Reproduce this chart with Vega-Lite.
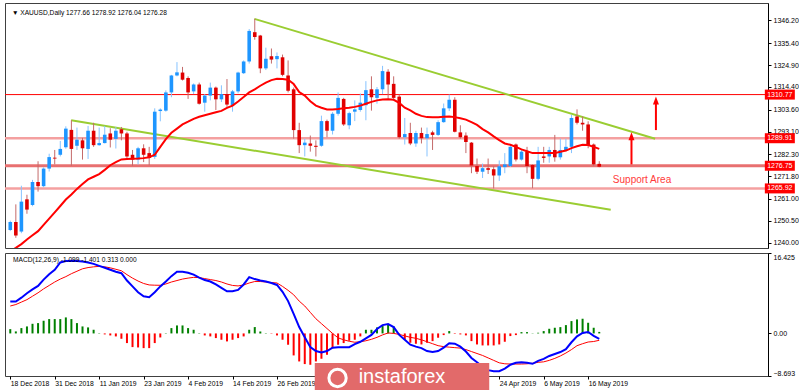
{
"$schema":"https://vega.github.io/schema/vega-lite/v6.json",
"background":"white",
"padding":{"left":3,"top":2,"right":0,"bottom":0},
"spacing":3,
"config":{"view":{"stroke":"#404040","strokeWidth":1},"font":"Liberation Sans","axis":{"labelFont":"Liberation Sans","labelColor":"#000","tickColor":"#000","domainColor":"#000","grid":false}},
"datasets":{
"bars":[
{"i":0,"o":1246.1,"h":1250.5,"l":1245.5,"c":1249.9,"ma":1235.8,"m":6.5,"s":5.6,"hi":0.88},
{"i":1,"o":1249.9,"h":1258.3,"l":1242.3,"c":1243.4,"ma":1237.5,"m":6.5,"s":5.9,"hi":0.41},
{"i":2,"o":1245.3,"h":1267.2,"l":1244.5,"c":1259.6,"ma":1239.3,"m":7.3,"s":6.4,"hi":1.09},
{"i":3,"o":1260.7,"h":1262.9,"l":1253.8,"c":1255.8,"ma":1241.5,"m":8.2,"s":6.9,"hi":1.43},
{"i":4,"o":1258.0,"h":1270.0,"l":1257.4,"c":1269.0,"ma":1243.5,"m":9.0,"s":7.6,"hi":1.97},
{"i":5,"o":1269.0,"h":1278.9,"l":1264.4,"c":1267.0,"ma":1245.5,"m":9.7,"s":8.3,"hi":2.11},
{"i":6,"o":1267.0,"h":1276.0,"l":1266.5,"c":1275.4,"ma":1248.5,"m":11.0,"s":9.1,"hi":2.59},
{"i":7,"o":1275.4,"h":1282.5,"l":1274.0,"c":1280.9,"ma":1251.5,"m":12.1,"s":9.8,"hi":2.93},
{"i":8,"o":1280.6,"h":1284.3,"l":1277.4,"c":1280.2,"ma":1254.5,"m":13.0,"s":10.5,"hi":2.93},
{"i":9,"o":1282.0,"h":1288.6,"l":1281.2,"c":1284.8,"ma":1257.5,"m":14.5,"s":11.1,"hi":2.93},
{"i":10,"o":1285.6,"h":1295.6,"l":1284.9,"c":1294.5,"ma":1260.6,"m":14.8,"s":11.6,"hi":3.27},
{"i":11,"o":1293.9,"h":1298.5,"l":1276.7,"c":1284.8,"ma":1263.0,"m":14.85,"s":12.2,"hi":2.93},
{"i":12,"o":1286.3,"h":1295.0,"l":1284.3,"c":1289.2,"ma":1265.7,"m":14.8,"s":12.7,"hi":2.11},
{"i":13,"o":1288.9,"h":1290.1,"l":1279.7,"c":1285.1,"ma":1268.0,"m":14.7,"s":13.2,"hi":1.43},
{"i":14,"o":1284.8,"h":1295.8,"l":1280.0,"c":1293.5,"ma":1270.2,"m":14.5,"s":13.45,"hi":1.23},
{"i":15,"o":1293.5,"h":1297.3,"l":1285.8,"c":1286.6,"ma":1271.5,"m":14.2,"s":13.6,"hi":0.75},
{"i":16,"o":1286.6,"h":1295.0,"l":1286.3,"c":1287.6,"ma":1272.8,"m":13.8,"s":13.7,"hi":0.07},
{"i":17,"o":1287.6,"h":1295.8,"l":1287.4,"c":1291.6,"ma":1274.8,"m":13.4,"s":13.6,"hi":-0.2},
{"i":18,"o":1292.2,"h":1294.7,"l":1285.5,"c":1289.2,"ma":1277.0,"m":13.0,"s":13.4,"hi":-0.41},
{"i":19,"o":1289.6,"h":1295.3,"l":1285.0,"c":1293.5,"ma":1278.5,"m":12.6,"s":13.1,"hi":-0.61},
{"i":20,"o":1294.2,"h":1295.3,"l":1288.9,"c":1292.2,"ma":1279.8,"m":12.3,"s":12.8,"hi":-1.09},
{"i":21,"o":1292.2,"h":1293.0,"l":1280.0,"c":1281.2,"ma":1280.0,"m":10.8,"s":12.0,"hi":-1.97},
{"i":22,"o":1282.0,"h":1284.3,"l":1276.7,"c":1279.7,"ma":1280.1,"m":9.6,"s":11.3,"hi":-2.79},
{"i":23,"o":1279.7,"h":1285.8,"l":1277.4,"c":1285.1,"ma":1280.2,"m":8.4,"s":10.7,"hi":-2.86},
{"i":24,"o":1285.1,"h":1287.0,"l":1278.5,"c":1282.0,"ma":1280.4,"m":7.6,"s":10.2,"hi":-3.0},
{"i":25,"o":1282.8,"h":1285.8,"l":1277.0,"c":1280.5,"ma":1280.8,"m":7.4,"s":9.9,"hi":-3.0},
{"i":26,"o":1281.0,"h":1304.2,"l":1280.0,"c":1302.6,"ma":1282.0,"m":8.4,"s":9.85,"hi":-1.97},
{"i":27,"o":1302.9,"h":1304.2,"l":1298.0,"c":1303.6,"ma":1285.8,"m":9.6,"s":9.83,"hi":-0.82},
{"i":28,"o":1303.1,"h":1312.8,"l":1302.6,"c":1311.8,"ma":1289.5,"m":10.6,"s":10.1,"hi":0.07},
{"i":29,"o":1311.8,"h":1320.2,"l":1309.5,"c":1319.9,"ma":1292.5,"m":11.7,"s":10.5,"hi":1.09},
{"i":30,"o":1319.9,"h":1326.3,"l":1319.5,"c":1321.4,"ma":1294.5,"m":12.6,"s":10.8,"hi":1.63},
{"i":31,"o":1321.3,"h":1324.0,"l":1317.5,"c":1317.9,"ma":1296.5,"m":12.6,"s":11.1,"hi":1.63},
{"i":32,"o":1318.7,"h":1319.5,"l":1308.7,"c":1311.8,"ma":1297.8,"m":12.4,"s":11.3,"hi":1.09},
{"i":33,"o":1312.3,"h":1316.1,"l":1311.0,"c":1315.6,"ma":1299.2,"m":12.0,"s":11.45,"hi":0.75},
{"i":34,"o":1315.6,"h":1316.5,"l":1306.0,"c":1306.4,"ma":1300.2,"m":11.4,"s":11.4,"hi":0.07},
{"i":35,"o":1306.9,"h":1311.0,"l":1302.6,"c":1310.3,"ma":1300.9,"m":10.9,"s":11.2,"hi":-0.41},
{"i":36,"o":1310.3,"h":1316.5,"l":1308.0,"c":1314.1,"ma":1301.6,"m":10.6,"s":11.0,"hi":-0.61},
{"i":37,"o":1314.1,"h":1314.6,"l":1303.4,"c":1308.5,"ma":1302.3,"m":10.0,"s":10.8,"hi":-0.95},
{"i":38,"o":1308.5,"h":1315.2,"l":1307.2,"c":1311.0,"ma":1303.0,"m":9.3,"s":10.5,"hi":-1.29},
{"i":39,"o":1311.0,"h":1318.2,"l":1304.9,"c":1306.0,"ma":1304.4,"m":8.6,"s":10.1,"hi":-1.63},
{"i":40,"o":1305.7,"h":1313.0,"l":1302.6,"c":1312.3,"ma":1305.5,"m":8.6,"s":9.8,"hi":-1.29},
{"i":41,"o":1312.3,"h":1321.7,"l":1311.4,"c":1321.3,"ma":1307.5,"m":8.9,"s":9.7,"hi":-0.95},
{"i":42,"o":1321.0,"h":1327.1,"l":1320.6,"c":1326.6,"ma":1309.6,"m":10.0,"s":9.9,"hi":-0.61},
{"i":43,"o":1326.6,"h":1342.1,"l":1325.6,"c":1341.2,"ma":1311.8,"m":11.5,"s":10.3,"hi":0.75},
{"i":44,"o":1340.6,"h":1347.0,"l":1337.0,"c":1338.3,"ma":1313.3,"m":11.1,"s":10.6,"hi":1.29},
{"i":45,"o":1339.0,"h":1339.3,"l":1321.0,"c":1323.3,"ma":1315.0,"m":10.8,"s":10.6,"hi":0.41},
{"i":46,"o":1323.3,"h":1333.2,"l":1322.5,"c":1327.9,"ma":1316.5,"m":10.6,"s":10.5,"hi":0.07},
{"i":47,"o":1329.1,"h":1332.8,"l":1325.6,"c":1327.5,"ma":1317.7,"m":10.3,"s":10.4,"hi":-0.07},
{"i":48,"o":1327.7,"h":1330.9,"l":1323.3,"c":1329.2,"ma":1318.3,"m":9.9,"s":10.3,"hi":-0.41},
{"i":49,"o":1328.6,"h":1329.9,"l":1319.5,"c":1320.2,"ma":1318.2,"m":8.5,"s":9.6,"hi":-1.29},
{"i":50,"o":1319.9,"h":1327.1,"l":1311.8,"c":1312.6,"ma":1317.9,"m":6.6,"s":8.8,"hi":-2.31},
{"i":51,"o":1313.3,"h":1314.1,"l":1289.7,"c":1293.8,"ma":1315.8,"m":4.0,"s":7.9,"hi":-4.49},
{"i":52,"o":1293.8,"h":1297.3,"l":1282.8,"c":1286.6,"ma":1312.0,"m":1.3,"s":6.6,"hi":-5.72},
{"i":53,"o":1286.6,"h":1289.7,"l":1281.2,"c":1287.8,"ma":1310.3,"m":-0.8,"s":5.6,"hi":-6.26},
{"i":54,"o":1287.4,"h":1291.2,"l":1283.5,"c":1286.3,"ma":1307.6,"m":-2.8,"s":4.3,"hi":-6.4},
{"i":55,"o":1286.3,"h":1288.9,"l":1281.2,"c":1285.8,"ma":1305.5,"m":-3.6,"s":3.0,"hi":-5.72},
{"i":56,"o":1286.3,"h":1300.7,"l":1285.8,"c":1298.1,"ma":1304.5,"m":-3.9,"s":2.0,"hi":-5.17},
{"i":57,"o":1298.1,"h":1298.8,"l":1290.4,"c":1293.5,"ma":1303.7,"m":-3.6,"s":1.0,"hi":-4.36},
{"i":58,"o":1293.5,"h":1302.4,"l":1291.7,"c":1301.6,"ma":1303.7,"m":-2.9,"s":0.0,"hi":-3.0},
{"i":59,"o":1301.6,"h":1311.8,"l":1300.7,"c":1309.2,"ma":1303.9,"m":-2.8,"s":-0.9,"hi":-2.31},
{"i":60,"o":1308.7,"h":1309.2,"l":1295.8,"c":1296.5,"ma":1304.2,"m":-2.8,"s":-1.3,"hi":-1.97},
{"i":61,"o":1296.1,"h":1302.6,"l":1294.2,"c":1301.9,"ma":1304.5,"m":-2.8,"s":-1.6,"hi":-1.5},
{"i":62,"o":1302.6,"h":1308.0,"l":1298.1,"c":1303.7,"ma":1304.9,"m":-2.2,"s":-1.8,"hi":-1.29},
{"i":63,"o":1303.4,"h":1311.3,"l":1302.6,"c":1306.9,"ma":1305.5,"m":-1.7,"s":-1.7,"hi":-0.61},
{"i":64,"o":1305.7,"h":1317.2,"l":1298.5,"c":1312.9,"ma":1306.4,"m":-1.0,"s":-1.5,"hi":0.75},
{"i":65,"o":1313.3,"h":1319.5,"l":1303.1,"c":1309.5,"ma":1307.3,"m":-0.3,"s":-1.2,"hi":0.75},
{"i":66,"o":1309.2,"h":1314.4,"l":1306.4,"c":1313.3,"ma":1308.0,"m":0.9,"s":-0.8,"hi":1.23},
{"i":67,"o":1313.3,"h":1324.5,"l":1311.0,"c":1322.0,"ma":1308.4,"m":1.7,"s":-0.3,"hi":1.57},
{"i":68,"o":1321.7,"h":1322.9,"l":1308.7,"c":1315.6,"ma":1308.5,"m":1.9,"s":0.1,"hi":1.77},
{"i":69,"o":1315.9,"h":1319.5,"l":1308.7,"c":1309.2,"ma":1308.3,"m":1.3,"s":0.0,"hi":1.43},
{"i":70,"o":1309.8,"h":1310.8,"l":1289.7,"c":1290.4,"ma":1306.8,"m":-0.3,"s":-0.2,"hi":-0.1},
{"i":71,"o":1290.4,"h":1299.6,"l":1286.9,"c":1291.9,"ma":1304.5,"m":-1.3,"s":-0.5,"hi":-1.23},
{"i":72,"o":1292.4,"h":1297.3,"l":1286.6,"c":1287.4,"ma":1303.2,"m":-2.3,"s":-0.8,"hi":-1.9},
{"i":73,"o":1287.4,"h":1293.5,"l":1285.8,"c":1292.4,"ma":1301.6,"m":-2.7,"s":-1.0,"hi":-2.11},
{"i":74,"o":1292.4,"h":1295.0,"l":1287.4,"c":1289.9,"ma":1300.6,"m":-3.0,"s":-1.3,"hi":-2.25},
{"i":75,"o":1289.9,"h":1295.0,"l":1281.2,"c":1291.9,"ma":1300.0,"m":-3.6,"s":-1.7,"hi":-1.9},
{"i":76,"o":1292.7,"h":1293.5,"l":1284.3,"c":1291.5,"ma":1299.9,"m":-3.8,"s":-2.1,"hi":-1.57},
{"i":77,"o":1291.5,"h":1298.5,"l":1291.0,"c":1297.6,"ma":1299.9,"m":-3.6,"s":-2.5,"hi":-0.88},
{"i":78,"o":1297.6,"h":1306.5,"l":1297.3,"c":1304.2,"ma":1300.2,"m":-2.9,"s":-2.7,"hi":-0.34},
{"i":79,"o":1304.2,"h":1310.8,"l":1302.9,"c":1308.3,"ma":1300.3,"m":-2.0,"s":-2.8,"hi":0.48},
{"i":80,"o":1308.3,"h":1309.5,"l":1292.7,"c":1293.0,"ma":1300.0,"m":-2.1,"s":-2.9,"hi":-0.1},
{"i":81,"o":1292.7,"h":1296.1,"l":1289.7,"c":1290.4,"ma":1299.5,"m":-2.7,"s":-3.0,"hi":-0.2},
{"i":82,"o":1291.2,"h":1292.7,"l":1282.8,"c":1288.1,"ma":1298.8,"m":-3.7,"s":-3.3,"hi":-0.4},
{"i":83,"o":1287.8,"h":1288.1,"l":1273.2,"c":1276.9,"ma":1297.6,"m":-5.0,"s":-3.7,"hi":-1.57},
{"i":84,"o":1276.6,"h":1280.2,"l":1272.8,"c":1273.9,"ma":1296.3,"m":-5.9,"s":-4.1,"hi":-2.25},
{"i":85,"o":1273.9,"h":1277.8,"l":1270.9,"c":1275.6,"ma":1294.3,"m":-6.8,"s":-4.5,"hi":-2.45},
{"i":86,"o":1275.6,"h":1280.2,"l":1272.8,"c":1274.8,"ma":1292.7,"m":-7.5,"s":-5.0,"hi":-2.45},
{"i":87,"o":1275.1,"h":1276.6,"l":1265.9,"c":1272.1,"ma":1290.8,"m":-7.7,"s":-5.5,"hi":-2.45},
{"i":88,"o":1272.1,"h":1279.3,"l":1269.5,"c":1276.5,"ma":1289.0,"m":-7.7,"s":-6.0,"hi":-2.25},
{"i":89,"o":1276.1,"h":1282.8,"l":1273.2,"c":1277.4,"ma":1287.4,"m":-7.2,"s":-6.2,"hi":-1.7},
{"i":90,"o":1276.6,"h":1286.9,"l":1276.2,"c":1285.8,"ma":1286.8,"m":-6.4,"s":-6.25,"hi":-0.54},
{"i":91,"o":1286.9,"h":1287.4,"l":1278.8,"c":1279.7,"ma":1285.8,"m":-6.0,"s":-6.25,"hi":-0.34},
{"i":92,"o":1279.7,"h":1284.5,"l":1279.2,"c":1283.5,"ma":1284.6,"m":-5.9,"s":-6.25,"hi":0.27},
{"i":93,"o":1283.5,"h":1285.8,"l":1273.2,"c":1276.6,"ma":1283.7,"m":-6.0,"s":-6.2,"hi":0.27},
{"i":94,"o":1277.1,"h":1277.4,"l":1266.0,"c":1270.5,"ma":1282.8,"m":-6.2,"s":-6.1,"hi":0.05},
{"i":95,"o":1270.5,"h":1285.8,"l":1269.8,"c":1279.3,"ma":1282.8,"m":-5.6,"s":-5.9,"hi":0.14},
{"i":96,"o":1281.2,"h":1285.8,"l":1278.2,"c":1280.5,"ma":1282.8,"m":-5.2,"s":-5.8,"hi":0.48},
{"i":97,"o":1281.2,"h":1285.8,"l":1278.2,"c":1284.3,"ma":1282.8,"m":-4.6,"s":-5.5,"hi":0.95},
{"i":98,"o":1284.3,"h":1291.5,"l":1278.7,"c":1280.8,"ma":1282.8,"m":-4.2,"s":-5.1,"hi":1.16},
{"i":99,"o":1280.8,"h":1289.7,"l":1279.7,"c":1284.3,"ma":1283.4,"m":-3.8,"s":-4.6,"hi":1.29},
{"i":100,"o":1284.3,"h":1289.7,"l":1283.5,"c":1285.8,"ma":1284.0,"m":-3.2,"s":-4.0,"hi":1.7},
{"i":101,"o":1285.8,"h":1301.1,"l":1282.8,"c":1299.6,"ma":1285.2,"m":-1.8,"s":-3.3,"hi":2.52},
{"i":102,"o":1300.3,"h":1303.7,"l":1296.5,"c":1297.3,"ma":1286.1,"m":-0.6,"s":-2.5,"hi":2.86},
{"i":103,"o":1297.3,"h":1300.3,"l":1293.5,"c":1296.5,"ma":1286.8,"m":0.1,"s":-2.1,"hi":3.0},
{"i":104,"o":1296.5,"h":1298.0,"l":1285.1,"c":1286.6,"ma":1286.7,"m":0.3,"s":-1.75,"hi":2.18},
{"i":105,"o":1286.9,"h":1287.4,"l":1276.6,"c":1277.4,"ma":1285.8,"m":-0.5,"s":-1.65,"hi":1.16},
{"i":106,"o":1277.66,"h":1278.92,"l":1276.04,"c":1276.28,"ma":1284.8,"m":-1.099,"s":-1.401,"hi":0.313}
],
"levels":[
{"p":1310.77,"t":"1310.77","k":"res"},
{"p":1289.91,"t":"1289.91","k":"zone"},
{"p":1276.75,"t":"1276.75","k":"mid"},
{"p":1265.92,"t":"1265.92","k":"zone"}
],
"trends":[
{"i":43.94,"p":1346.98,"i2":116.06,"p2":1289.66},
{"i":10.96,"p":1298.51,"i2":108.06,"p2":1255.74}
],
"arrows":[
{"i":111.8,"p":1277.4,"p2":1289.6,"tip":1290.8},
{"i":116.2,"p":1293.8,"p2":1306.8,"tip":1308.0}
],
"notes":[
{"i":113.7,"p":1270.1,"t":"Support Area"}
],
"head":[
{"i":0.3,"p":1349.6,"t":"▼ XAUUSD,Daily 1277.66 1278.92 1276.04 1276.28"}
],
"macdhead":[
{"i":0.5,"v":15.0,"t":"MACD(12,26,9) -1.099 -1.401 0.313 0.000"}
],
"brand":[
{"i":70.5,"v":-10.1,"t":"instaforex","li":58.9,"lv":-9.1}
]
},
"vconcat":[
{
"width":763,"height":245,
"layer":[
{"data":{"name":"levels"},"transform":[{"filter":"datum.k=='zone'"}],"mark":{"type":"rule","color":"#f4a0a0","strokeWidth":2.5},
 "encoding":{"y":{"field":"p","type":"quantitative","title":null,"scale":{"domain":[1239.83,1352.16],"nice":false,"zero":false},
  "axis":{"orient":"right","values":[1240,1250.5,1261,1271.8,1282.3,1293.1,1303.6,1314.4,1324.9,1335.4,1346.2],"tickCount":20,"format":".2f","labelFontSize":7,"tickSize":3,"labelPadding":2,"labelOverlap":false,"title":null,"grid":false}}}},
{"data":{"name":"levels"},"transform":[{"filter":"datum.k=='mid'"}],"mark":{"type":"rule","color":"#e87070","strokeWidth":3},
 "encoding":{"y":{"field":"p","type":"quantitative","title":null,"scale":{"domain":[1239.83,1352.16],"nice":false,"zero":false}}}},
{"data":{"name":"levels"},"transform":[{"filter":"datum.k=='res'"}],"mark":{"type":"rule","color":"#ff0000","strokeWidth":1},
 "encoding":{"y":{"field":"p","type":"quantitative","title":null,"scale":{"domain":[1239.83,1352.16],"nice":false,"zero":false}}}},
{"data":{"name":"trends"},"mark":{"type":"rule","color":"#9acd32","strokeWidth":2,"clip":true},
 "encoding":{"x":{"field":"i","type":"quantitative","title":null,"scale":{"domain":[-0.05,135.47],"nice":false,"zero":false},"axis":null},
  "x2":{"field":"i2"},
  "y":{"field":"p","type":"quantitative","title":null,"scale":{"domain":[1239.83,1352.16],"nice":false,"zero":false}},
  "y2":{"field":"p2"}}},
{"data":{"name":"bars"},"mark":{"type":"rule","strokeWidth":1,"clip":true},
 "encoding":{"x":{"field":"i","type":"quantitative","title":null,"scale":{"domain":[-0.05,135.47],"nice":false,"zero":false},"axis":null},
  "y":{"field":"l","type":"quantitative","title":null,"scale":{"domain":[1239.83,1352.16],"nice":false,"zero":false}},
  "y2":{"field":"h"},
  "color":{"condition":{"test":"datum.c>=datum.o","value":"#86c3ff"},"value":"#c46a6a"}}},
{"data":{"name":"bars"},"mark":{"type":"bar","size":3.6,"clip":true},
 "encoding":{"x":{"field":"i","type":"quantitative","title":null,"scale":{"domain":[-0.05,135.47],"nice":false,"zero":false},"axis":null},
  "y":{"field":"o","type":"quantitative","title":null,"scale":{"domain":[1239.83,1352.16],"nice":false,"zero":false}},
  "y2":{"field":"c"},
  "color":{"condition":{"test":"datum.c>=datum.o","value":"#1e96ff"},"value":"#e00000"}}},
{"data":{"name":"bars"},"mark":{"type":"line","color":"#ff0000","strokeWidth":2,"clip":true},
 "encoding":{"x":{"field":"i","type":"quantitative","title":null,"scale":{"domain":[-0.05,135.47],"nice":false,"zero":false},"axis":null},
  "y":{"field":"ma","type":"quantitative","title":null,"scale":{"domain":[1239.83,1352.16],"nice":false,"zero":false}}}},
{"data":{"name":"arrows"},"mark":{"type":"rule","color":"#ff0000","strokeWidth":2},
 "encoding":{"x":{"field":"i","type":"quantitative","title":null,"scale":{"domain":[-0.05,135.47],"nice":false,"zero":false},"axis":null},
  "y":{"field":"p","type":"quantitative","title":null,"scale":{"domain":[1239.83,1352.16],"nice":false,"zero":false}},
  "y2":{"field":"p2"}}},
{"data":{"name":"arrows"},"mark":{"type":"point","shape":"M0,-1L0.75,1L-0.75,1Z","size":64,"filled":true,"color":"#ff0000","opacity":1},
 "encoding":{"x":{"field":"i","type":"quantitative","title":null,"scale":{"domain":[-0.05,135.47],"nice":false,"zero":false},"axis":null},
  "y":{"field":"tip","type":"quantitative","title":null,"scale":{"domain":[1239.83,1352.16],"nice":false,"zero":false}}}},
{"data":{"name":"notes"},"mark":{"type":"text","color":"#ff3b3b","fontSize":10,"align":"center","baseline":"middle","font":"Liberation Sans"},
 "encoding":{"x":{"field":"i","type":"quantitative","title":null,"scale":{"domain":[-0.05,135.47],"nice":false,"zero":false},"axis":null},
  "y":{"field":"p","type":"quantitative","title":null,"scale":{"domain":[1239.83,1352.16],"nice":false,"zero":false}},
  "text":{"field":"t"}}},
{"data":{"name":"head"},"mark":{"type":"text","color":"#000","fontSize":6.6,"align":"left","baseline":"middle","font":"Liberation Sans"},
 "encoding":{"x":{"field":"i","type":"quantitative","title":null,"scale":{"domain":[-0.05,135.47],"nice":false,"zero":false},"axis":null},
  "y":{"field":"p","type":"quantitative","title":null,"scale":{"domain":[1239.83,1352.16],"nice":false,"zero":false}},
  "text":{"field":"t"}}},
{"data":{"name":"levels"},"mark":{"type":"bar","orient":"horizontal","size":10,"color":"#ff0000"},
 "encoding":{"x":{"datum":135.8,"type":"quantitative","title":null,"scale":{"domain":[-0.05,135.47],"nice":false,"zero":false},"axis":null},
  "x2":{"datum":141.2},
  "y":{"field":"p","type":"quantitative","title":null,"scale":{"domain":[1239.83,1352.16],"nice":false,"zero":false}}}},
{"data":{"name":"levels"},"mark":{"type":"text","color":"#ffffff","fontSize":7,"align":"center","baseline":"middle","font":"Liberation Sans"},
 "encoding":{"x":{"datum":138.5,"type":"quantitative","title":null,"scale":{"domain":[-0.05,135.47],"nice":false,"zero":false},"axis":null},
  "y":{"field":"p","type":"quantitative","title":null,"scale":{"domain":[1239.83,1352.16],"nice":false,"zero":false}},
  "text":{"field":"t"}}}
]
},
{
"width":763,"height":123,
"layer":[
{"data":{"name":"bars"},"mark":{"type":"bar","size":2},
 "encoding":{"x":{"field":"i","type":"quantitative","title":null,"scale":{"domain":[-0.05,135.47],"nice":false,"zero":false},
   "axis":{"orient":"bottom","values":[0,8,16,24,32,40,48,88,96,104],"tickCount":30,"labelExpr":"['18 Dec 2018','31 Dec 2018','11 Jan 2019','23 Jan 2019','4 Feb 2019','14 Feb 2019','26 Feb 2019','8 Mar 2019','20 Mar 2019','1 Apr 2019','11 Apr 2019','24 Apr 2019','6 May 2019','16 May 2019'][round(datum.value/8)]","labelAlign":"left","labelFontSize":6.8,"tickSize":3,"labelPadding":1,"labelOverlap":false,"labelFlush":false,"labelBound":false,"domain":false,"title":null,"grid":false}},
  "y":{"field":"hi","type":"quantitative","title":null,"scale":{"domain":[-8.693,16.425],"nice":false,"zero":false},
   "axis":{"orient":"right","values":[16.425,0,-8.693],"tickCount":10,"labelExpr":"datum.value==0?'0.00':format(datum.value,'.3f')","labelFlush":true,"labelFontSize":7,"tickSize":3,"labelPadding":2,"title":null,"grid":false}},
  "y2":{"datum":0},
  "color":{"condition":{"test":"datum.hi>=0","value":"#008000"},"value":"#ff0000"}}},
{"data":{"name":"bars"},"mark":{"type":"line","color":"#ff0000","strokeWidth":1},
 "encoding":{"x":{"field":"i","type":"quantitative","title":null,"scale":{"domain":[-0.05,135.47],"nice":false,"zero":false}},
  "y":{"field":"s","type":"quantitative","title":null,"scale":{"domain":[-8.693,16.425],"nice":false,"zero":false}}}},
{"data":{"name":"bars"},"mark":{"type":"line","color":"#0000ff","strokeWidth":2},
 "encoding":{"x":{"field":"i","type":"quantitative","title":null,"scale":{"domain":[-0.05,135.47],"nice":false,"zero":false}},
  "y":{"field":"m","type":"quantitative","title":null,"scale":{"domain":[-8.693,16.425],"nice":false,"zero":false}}}},
{"data":{"name":"macdhead"},"mark":{"type":"text","color":"#000","fontSize":6.6,"align":"left","baseline":"middle","font":"Liberation Sans"},
 "encoding":{"x":{"field":"i","type":"quantitative","title":null,"scale":{"domain":[-0.05,135.47],"nice":false,"zero":false}},
  "y":{"field":"v","type":"quantitative","title":null,"scale":{"domain":[-8.693,16.425],"nice":false,"zero":false}},
  "text":{"field":"t"}}},
{"data":{"name":"brand"},"mark":{"type":"bar","color":"#e26a6a"},
 "encoding":{"x":{"datum":54.8,"type":"quantitative","title":null,"scale":{"domain":[-0.05,135.47],"nice":false,"zero":false}},
  "x2":{"datum":86.2},
  "y":{"datum":-6.04,"type":"quantitative","title":null,"scale":{"domain":[-8.693,16.425],"nice":false,"zero":false}},
  "y2":{"datum":-12.6}}},
{"data":{"name":"brand"},"mark":{"type":"point","shape":"circle","size":300,"filled":false,"color":"#ffffff","strokeWidth":3,"opacity":1},
 "encoding":{"x":{"field":"li","type":"quantitative","title":null,"scale":{"domain":[-0.05,135.47],"nice":false,"zero":false}},
  "y":{"field":"lv","type":"quantitative","title":null,"scale":{"domain":[-8.693,16.425],"nice":false,"zero":false}}}},
{"data":{"name":"brand"},"mark":{"type":"text","color":"#ffffff","fontSize":20,"align":"center","baseline":"alphabetic","font":"Liberation Sans"},
 "encoding":{"x":{"field":"i","type":"quantitative","title":null,"scale":{"domain":[-0.05,135.47],"nice":false,"zero":false}},
  "y":{"field":"v","type":"quantitative","title":null,"scale":{"domain":[-8.693,16.425],"nice":false,"zero":false}},
  "text":{"field":"t"}}}
]
}
]
}
